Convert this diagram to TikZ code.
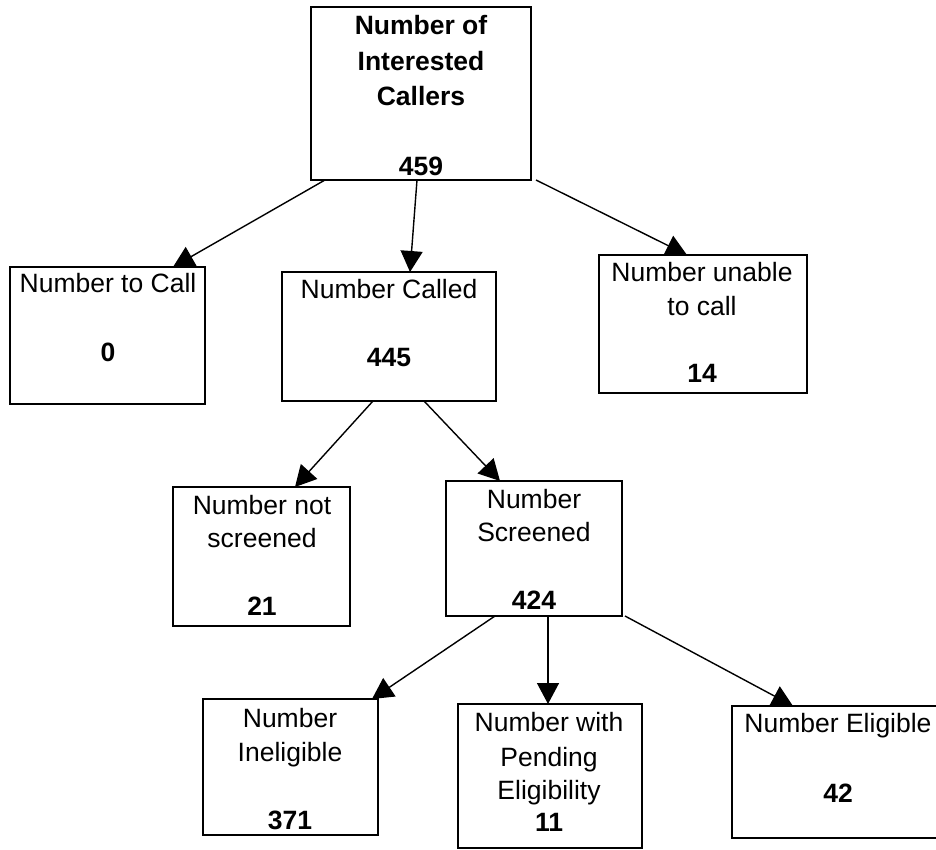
\documentclass[tikz,border=0pt]{standalone}
\usepackage{fontspec}
\setmainfont{Liberation Sans}
\usetikzlibrary{arrows.meta}
\begin{document}
\begin{tikzpicture}[x=1pt,y=-1pt,
  box/.style={draw=black,line width=1.6pt,inner sep=0pt,outer sep=0pt,fill=none},
  txt/.style={anchor=base,inner sep=0pt,font=\fontsize{26.5}{34}\selectfont},
  btxt/.style={txt,font=\fontsize{26.5}{34}\selectfont\bfseries},
  arr/.style={line width=1.4pt,-{Triangle[length=21pt,width=22pt]}}]
\clip (0,0) rectangle (936,850);
\fill[white] (0,0) rectangle (936,850);
% boxes
\node[box,minimum width=220pt,minimum height=173pt] (top) at (421,93.5) {};
\node[box,minimum width=195pt,minimum height=137pt] (call) at (107.5,335.5) {};
\node[box,minimum width=214pt,minimum height=129pt] (called) at (389,336.5) {};
\node[box,minimum width=208pt,minimum height=138pt] (unable) at (703,324) {};
\node[box,minimum width=177pt,minimum height=139pt] (notscr) at (261.5,556.5) {};
\node[box,minimum width=176pt,minimum height=135pt] (scr) at (534,548.5) {};
\node[box,minimum width=175pt,minimum height=136pt] (inel) at (290.5,767) {};
\node[box,minimum width=184pt,minimum height=144pt] (pend) at (550,776) {};
\node[box,minimum width=213pt,minimum height=132pt] (elig) at (838.5,772) {};
% texts
\node[btxt] (t1) at (421,35) {Number of};
\node[btxt] (t2) at (421,71) {Interested};
\node[btxt] (t3) at (421,106) {Callers};
\node[btxt] (t4) at (421,176) {459};
\node[txt] (c1) at (108,292) {Number to Call};
\node[btxt] (c2) at (108,361) {0};
\node[txt] (d1) at (389,298) {Number Called};
\node[btxt] (d2) at (389,366) {445};
\node[txt] (u1) at (702,281) {Number unable};
\node[txt] (u2) at (702,315) {to call};
\node[btxt] (u3) at (702,382) {14};
\node[txt] (n1) at (262,514) {Number not};
\node[txt] (n2) at (262,547) {screened};
\node[btxt] (n3) at (262,615) {21};
\node[txt] (s1) at (534,508) {Number};
\node[txt] (s2) at (534,541) {Screened};
\node[btxt] (s3) at (534,609) {424};
\node[txt] (i1) at (290,727) {Number};
\node[txt] (i2) at (290,761) {Ineligible};
\node[btxt] (i3) at (290,829) {371};
\node[txt] (p1) at (549,731) {Number with};
\node[txt] (p2) at (549,766) {Pending};
\node[txt] (p3) at (549,799) {Eligibility};
\node[btxt] (p4) at (549,831) {11};
\node[txt] (e1) at (838,732) {Number Eligible};
\node[btxt] (e2) at (838,802) {42};
% connectors
\draw[arr] ([xshift=14pt]top.south west) -- ([xshift=163pt]call.north west);
\draw[arr] ([xshift=106pt]top.south west) -- ([xshift=128pt]called.north west);
\draw[arr] ([xshift=225pt]top.south west) -- ([xshift=88pt]unable.north west);
\draw[arr] ([xshift=91pt]called.south west) -- ([xshift=122pt]notscr.north west);
\draw[arr] ([xshift=142pt]called.south west) -- ([xshift=54pt]scr.north west);
\draw[arr] ([xshift=49pt]scr.south west) -- ([xshift=169pt]inel.north west);
\draw[arr] ([xshift=102pt]scr.south west) -- ([xshift=90pt]pend.north west);
\draw[arr] ([xshift=179pt]scr.south west) -- ([xshift=61pt]elig.north west);
\end{tikzpicture}
\end{document}
